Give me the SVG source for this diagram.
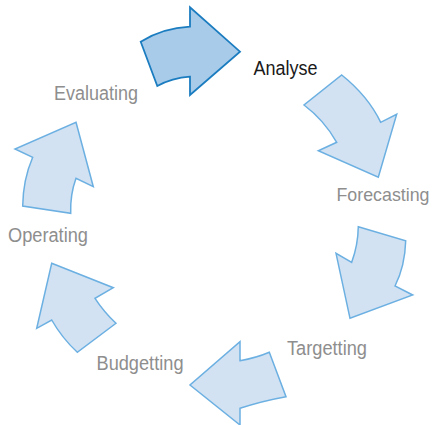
<svg xmlns="http://www.w3.org/2000/svg" width="435" height="425" viewBox="0 0 435 425">
<style>
.arr{fill:#d2e2f3;stroke:#6cb0e2;stroke-width:1.5;stroke-linejoin:miter}
.hi{fill:#a9cbea;stroke:#1b7dc0;stroke-width:1.8}
.lbl{font-family:"Liberation Sans",Arial,sans-serif;font-size:20px;fill:#8e8e8e}
.act{fill:#1a1a1a}
</style>
<rect width="435" height="425" fill="#ffffff"/>
<g id="connectors">
<g id="arrow-analyse">
<path class="hi" d="M140.7,41.7 Q163,28 190,26.7 L190,7.3 L240,51.7 L190,95 L190,76.7 Q172,78 157.3,86 Z"/>
</g>
<g id="arrow-forecasting">
<path class="arr" d="M341.7,75 Q368,96 380.7,122.3 L396.7,114.3 L378.3,177.3 L318.3,150.7 L336.7,142.3 Q324,120 304,105 Z"/>
</g>
<g id="arrow-targetting">
<path class="arr" d="M358.3,226.7 L405.7,240.7 Q405,266 395,286 L412.7,295 L350,318.3 L336,253.3 L351.7,262.3 Q358,245 358.3,226.7 Z"/>
</g>
<g id="arrow-budgetting">
<path class="arr" d="M269.3,352.3 L286,396.7 Q262,401 240,408.3 L240,425 L190,385 L240,341.7 L240,360.7 Q256,358 269.3,352.3 Z"/>
</g>
<g id="arrow-operating">
<path class="arr" d="M51.7,263.3 L113.3,287.7 L95,298.3 Q104,312 116,323.3 L77.3,352.3 Q62,338 51.7,320 L36.7,328.3 Z"/>
</g>
<g id="arrow-evaluating">
<path class="arr" d="M76,122.3 L93.3,186.7 L76,178.3 Q70,195 70.7,213.3 L22.7,206 Q23,180 32.7,157.3 L15,149 Z"/>
</g>
</g>
<g id="node-analyse"><text class="lbl act" x="253.5" y="74.5" textLength="64" lengthAdjust="spacingAndGlyphs">Analyse</text></g>
<g id="node-forecasting"><text class="lbl" x="336.5" y="201" style="font-size:18.5px" textLength="93" lengthAdjust="spacingAndGlyphs">Forecasting</text></g>
<g id="node-targetting"><text class="lbl" x="287" y="354.5" textLength="80" lengthAdjust="spacingAndGlyphs">Targetting</text></g>
<g id="node-budgetting"><text class="lbl" x="96.5" y="369.5" textLength="87" lengthAdjust="spacingAndGlyphs">Budgetting</text></g>
<g id="node-operating"><text class="lbl" x="8" y="241.5" textLength="80" lengthAdjust="spacingAndGlyphs">Operating</text></g>
<g id="node-evaluating"><text class="lbl" x="54" y="99.5" textLength="84" lengthAdjust="spacingAndGlyphs">Evaluating</text></g>
</svg>
